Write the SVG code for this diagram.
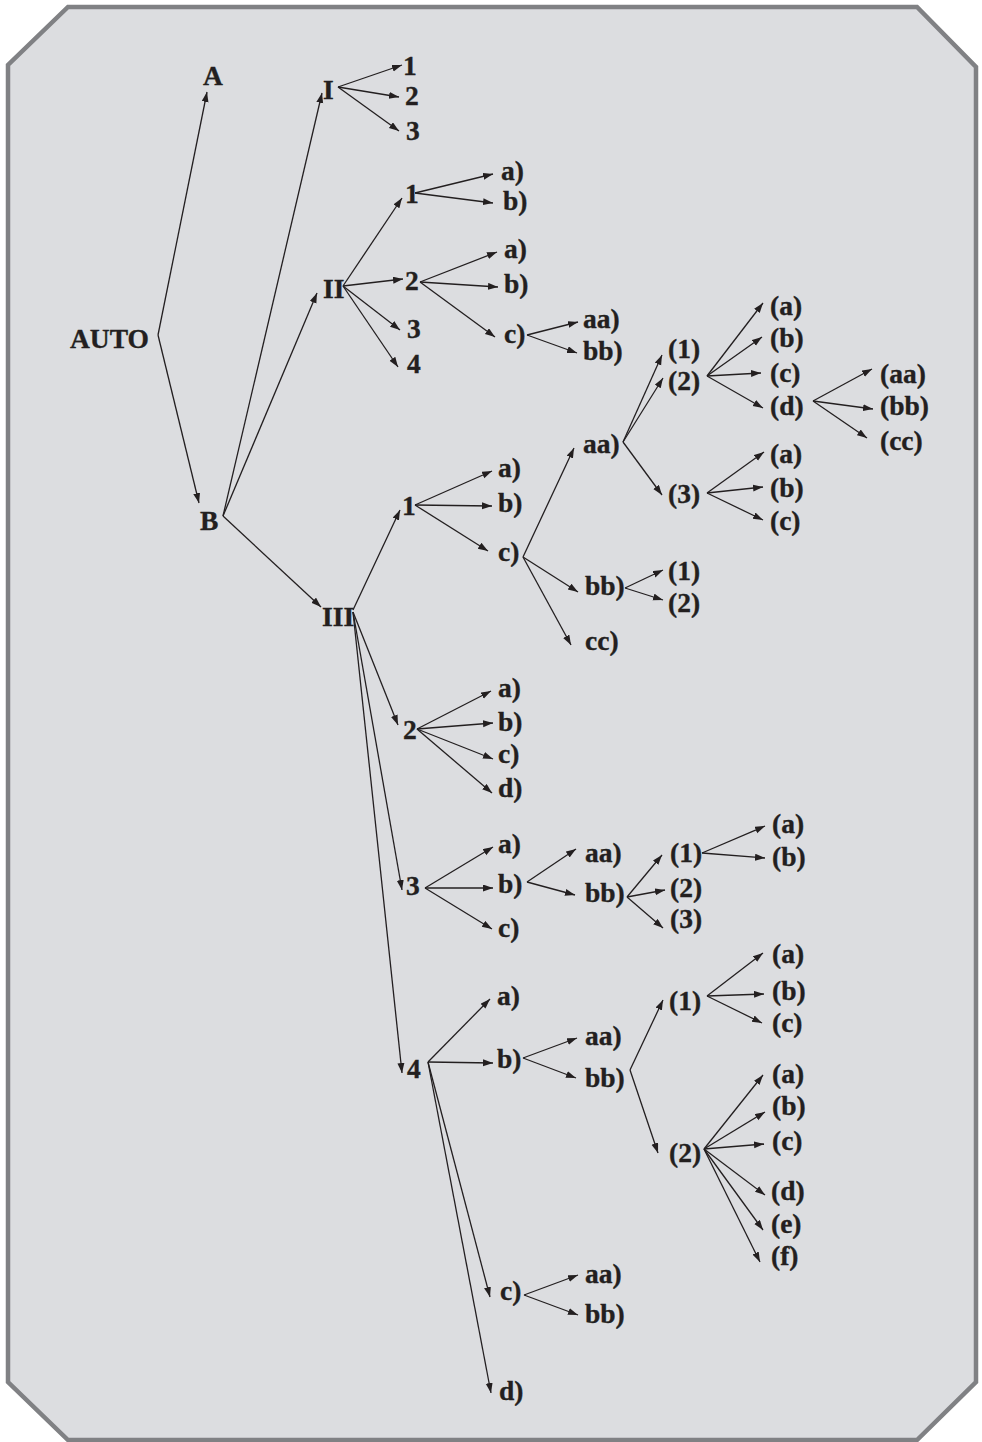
<svg xmlns="http://www.w3.org/2000/svg" width="982" height="1442" viewBox="0 0 982 1442">
<defs>
<style>
.frame{fill:#dcdde0;stroke:#808184;stroke-width:4.5;stroke-linejoin:miter}
text{font-family:"Liberation Serif","Times New Roman",serif;font-weight:bold;font-size:27.5px;fill:#231f20;stroke:#231f20;stroke-width:0.35}
.c line{stroke:#231f20;stroke-width:1.3;fill:none;marker-end:url(#ah)}
</style>
<marker id="ah" markerUnits="userSpaceOnUse" markerWidth="11" markerHeight="8" refX="10" refY="3.5" orient="auto">
<path d="M0,0 L10,3.5 L0,7 Z" fill="#231f20"/>
</marker>
</defs>

<!-- chamfered frame -->
<polygon class="frame" points="68,7 917,7 976,67 976,1382 917,1440 68,1440 8,1382 8,65"/>

<!-- connectors -->
<g id="connectors" class="c">
<line x1="158" y1="335" x2="207" y2="92"/>
<line x1="158" y1="335" x2="199" y2="503"/>
<line x1="223" y1="516" x2="322" y2="93"/>
<line x1="223" y1="516" x2="317" y2="293"/>
<line x1="223" y1="516" x2="321" y2="607"/>
<line x1="338" y1="87" x2="402" y2="65"/>
<line x1="338" y1="87" x2="399" y2="97"/>
<line x1="338" y1="87" x2="399" y2="131"/>
<line x1="343" y1="286" x2="402" y2="198"/>
<line x1="343" y1="286" x2="403" y2="279"/>
<line x1="343" y1="286" x2="400" y2="330"/>
<line x1="343" y1="286" x2="398" y2="367"/>
<line x1="415" y1="193" x2="493" y2="174"/>
<line x1="415" y1="193" x2="493" y2="203"/>
<line x1="420" y1="282" x2="497" y2="252"/>
<line x1="420" y1="282" x2="498" y2="287"/>
<line x1="420" y1="282" x2="495" y2="337"/>
<line x1="527" y1="335" x2="578" y2="322"/>
<line x1="527" y1="335" x2="577" y2="353"/>
<line x1="353" y1="610" x2="400" y2="510"/>
<line x1="353" y1="612" x2="398" y2="725"/>
<line x1="353" y1="612" x2="402" y2="890"/>
<line x1="353" y1="612" x2="402" y2="1073"/>
<line x1="415" y1="505" x2="492" y2="471"/>
<line x1="415" y1="505" x2="492" y2="506"/>
<line x1="415" y1="505" x2="488" y2="551"/>
<line x1="523" y1="557" x2="574" y2="448"/>
<line x1="523" y1="557" x2="578" y2="592"/>
<line x1="523" y1="557" x2="571" y2="645"/>
<line x1="623" y1="442" x2="662" y2="355"/>
<line x1="623" y1="442" x2="663" y2="378"/>
<line x1="623" y1="442" x2="662" y2="495"/>
<line x1="707" y1="376" x2="763" y2="303"/>
<line x1="707" y1="376" x2="762" y2="337"/>
<line x1="707" y1="376" x2="761" y2="373"/>
<line x1="707" y1="376" x2="763" y2="408"/>
<line x1="813" y1="401" x2="872" y2="369"/>
<line x1="813" y1="401" x2="873" y2="409"/>
<line x1="813" y1="401" x2="867" y2="438"/>
<line x1="707" y1="493" x2="764" y2="452"/>
<line x1="707" y1="493" x2="763" y2="487"/>
<line x1="707" y1="493" x2="763" y2="520"/>
<line x1="625" y1="588" x2="663" y2="570"/>
<line x1="625" y1="588" x2="663" y2="600"/>
<line x1="417" y1="729" x2="491" y2="691"/>
<line x1="417" y1="729" x2="493" y2="723"/>
<line x1="417" y1="729" x2="493" y2="759"/>
<line x1="417" y1="729" x2="492" y2="793"/>
<line x1="425" y1="888" x2="493" y2="847"/>
<line x1="425" y1="888" x2="493" y2="888"/>
<line x1="425" y1="888" x2="492" y2="929"/>
<line x1="527" y1="882" x2="576" y2="849"/>
<line x1="527" y1="882" x2="575" y2="895"/>
<line x1="627" y1="897" x2="662" y2="855"/>
<line x1="627" y1="897" x2="665" y2="890"/>
<line x1="627" y1="897" x2="663" y2="928"/>
<line x1="702" y1="853" x2="765" y2="826"/>
<line x1="702" y1="853" x2="765" y2="858"/>
<line x1="428" y1="1062" x2="490" y2="999"/>
<line x1="428" y1="1062" x2="493" y2="1063"/>
<line x1="428" y1="1062" x2="490" y2="1297"/>
<line x1="428" y1="1062" x2="491" y2="1393"/>
<line x1="523" y1="1058" x2="577" y2="1038"/>
<line x1="523" y1="1058" x2="576" y2="1078"/>
<line x1="630" y1="1070" x2="663" y2="1000"/>
<line x1="630" y1="1070" x2="658" y2="1153"/>
<line x1="707" y1="996" x2="763" y2="953"/>
<line x1="707" y1="996" x2="764" y2="994"/>
<line x1="707" y1="996" x2="762" y2="1023"/>
<line x1="704" y1="1149" x2="763" y2="1075"/>
<line x1="704" y1="1149" x2="765" y2="1112"/>
<line x1="704" y1="1149" x2="764" y2="1144"/>
<line x1="704" y1="1149" x2="765" y2="1195"/>
<line x1="704" y1="1149" x2="763" y2="1230"/>
<line x1="704" y1="1149" x2="760" y2="1262"/>
<line x1="524" y1="1295" x2="578" y2="1275"/>
<line x1="524" y1="1295" x2="578" y2="1315"/>
</g>

<!-- nodes -->
<g id="n-auto"><text x="70" y="348">AUTO</text></g>
<g id="n-a"><text x="203" y="85">A</text></g>
<g id="n-b"><text x="200" y="530">B</text></g>

<g id="n-I"><text x="323" y="99">I</text></g>
<g id="n-I-1"><text x="403" y="75">1</text></g>
<g id="n-I-2"><text x="405" y="105">2</text></g>
<g id="n-I-3"><text x="406" y="140">3</text></g>

<g id="n-II"><text x="323" y="298">II</text></g>
<g id="n-II-1"><text x="405" y="203">1</text></g>
<g id="n-II-1-a"><text x="501" y="180">a)</text></g>
<g id="n-II-1-b"><text x="503" y="210">b)</text></g>
<g id="n-II-2"><text x="405" y="290">2</text></g>
<g id="n-II-2-a"><text x="504" y="258">a)</text></g>
<g id="n-II-2-b"><text x="504" y="293">b)</text></g>
<g id="n-II-2-c"><text x="504" y="343">c)</text></g>
<g id="n-II-2-c-aa"><text x="583" y="328">aa)</text></g>
<g id="n-II-2-c-bb"><text x="583" y="360">bb)</text></g>
<g id="n-II-3"><text x="407" y="338">3</text></g>
<g id="n-II-4"><text x="407" y="373">4</text></g>

<g id="n-III"><text x="322" y="626">III</text></g>

<g id="n-III-1"><text x="402" y="515">1</text></g>
<g id="n-III-1-a"><text x="498" y="477">a)</text></g>
<g id="n-III-1-b"><text x="498" y="512">b)</text></g>
<g id="n-III-1-c"><text x="498" y="561">c)</text></g>
<g id="n-III-1-c-aa"><text x="583" y="453">aa)</text></g>
<g id="n-III-1-c-aa-1"><text x="668" y="358">(1)</text></g>
<g id="n-III-1-c-aa-2"><text x="668" y="390">(2)</text></g>
<g id="n-III-1-c-aa-2-a"><text x="770" y="315">(a)</text></g>
<g id="n-III-1-c-aa-2-b"><text x="770" y="347">(b)</text></g>
<g id="n-III-1-c-aa-2-c"><text x="770" y="382">(c)</text></g>
<g id="n-III-1-c-aa-2-d"><text x="770" y="415">(d)</text></g>
<g id="n-III-1-c-aa-2-d-aa"><text x="880" y="383">(aa)</text></g>
<g id="n-III-1-c-aa-2-d-bb"><text x="880" y="415">(bb)</text></g>
<g id="n-III-1-c-aa-2-d-cc"><text x="880" y="450">(cc)</text></g>
<g id="n-III-1-c-aa-3"><text x="668" y="503">(3)</text></g>
<g id="n-III-1-c-aa-3-a"><text x="770" y="463">(a)</text></g>
<g id="n-III-1-c-aa-3-b"><text x="770" y="497">(b)</text></g>
<g id="n-III-1-c-aa-3-c"><text x="770" y="530">(c)</text></g>
<g id="n-III-1-c-bb"><text x="585" y="595">bb)</text></g>
<g id="n-III-1-c-bb-1"><text x="668" y="580">(1)</text></g>
<g id="n-III-1-c-bb-2"><text x="668" y="612">(2)</text></g>
<g id="n-III-1-c-cc"><text x="585" y="650">cc)</text></g>

<g id="n-III-2"><text x="403" y="739">2</text></g>
<g id="n-III-2-a"><text x="498" y="697">a)</text></g>
<g id="n-III-2-b"><text x="498" y="731">b)</text></g>
<g id="n-III-2-c"><text x="498" y="763">c)</text></g>
<g id="n-III-2-d"><text x="498" y="797">d)</text></g>

<g id="n-III-3"><text x="406" y="895">3</text></g>
<g id="n-III-3-a"><text x="498" y="853">a)</text></g>
<g id="n-III-3-b"><text x="498" y="893">b)</text></g>
<g id="n-III-3-b-aa"><text x="585" y="862">aa)</text></g>
<g id="n-III-3-b-bb"><text x="585" y="902">bb)</text></g>
<g id="n-III-3-b-bb-1"><text x="670" y="862">(1)</text></g>
<g id="n-III-3-b-bb-1-a"><text x="772" y="833">(a)</text></g>
<g id="n-III-3-b-bb-1-b"><text x="772" y="866">(b)</text></g>
<g id="n-III-3-b-bb-2"><text x="670" y="897">(2)</text></g>
<g id="n-III-3-b-bb-3"><text x="670" y="928">(3)</text></g>
<g id="n-III-3-c"><text x="498" y="937">c)</text></g>

<g id="n-III-4"><text x="407" y="1078">4</text></g>
<g id="n-III-4-a"><text x="497" y="1005">a)</text></g>
<g id="n-III-4-b"><text x="497" y="1068">b)</text></g>
<g id="n-III-4-b-aa"><text x="585" y="1045">aa)</text></g>
<g id="n-III-4-b-bb"><text x="585" y="1087">bb)</text></g>
<g id="n-III-4-b-bb-1"><text x="669" y="1010">(1)</text></g>
<g id="n-III-4-b-bb-1-a"><text x="772" y="963">(a)</text></g>
<g id="n-III-4-b-bb-1-b"><text x="772" y="1000">(b)</text></g>
<g id="n-III-4-b-bb-1-c"><text x="772" y="1032">(c)</text></g>
<g id="n-III-4-b-bb-2"><text x="669" y="1162">(2)</text></g>
<g id="n-III-4-b-bb-2-a"><text x="772" y="1083">(a)</text></g>
<g id="n-III-4-b-bb-2-b"><text x="772" y="1115">(b)</text></g>
<g id="n-III-4-b-bb-2-c"><text x="772" y="1150">(c)</text></g>
<g id="n-III-4-b-bb-2-d"><text x="771" y="1200">(d)</text></g>
<g id="n-III-4-b-bb-2-e"><text x="771" y="1233">(e)</text></g>
<g id="n-III-4-b-bb-2-f"><text x="771" y="1265">(f)</text></g>
<g id="n-III-4-c"><text x="500" y="1300">c)</text></g>
<g id="n-III-4-c-aa"><text x="585" y="1283">aa)</text></g>
<g id="n-III-4-c-bb"><text x="585" y="1323">bb)</text></g>
<g id="n-III-4-d"><text x="499" y="1400">d)</text></g>
</svg>
